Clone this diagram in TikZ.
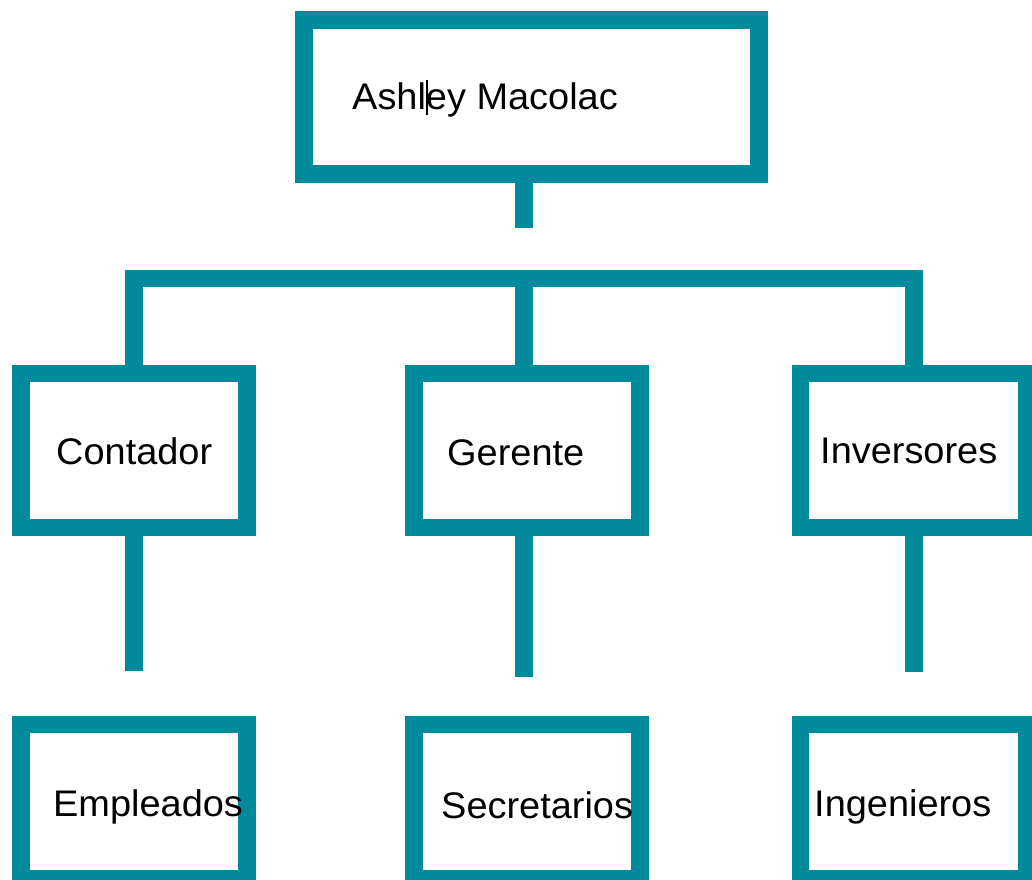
\documentclass[tikz,border=0pt]{standalone}
\usepackage{fontspec}
\setmainfont[FakeStretch=1.025]{Liberation Sans}
\definecolor{teal0}{HTML}{008A9B}
\tikzset{
  orgbox/.style={draw=teal0, line width=17.5pt, fill=none, rectangle, inner sep=0pt, minimum width=#1, minimum height=154pt},
  orgbox/.default=226pt,
  link/.style={draw=teal0, line width=17.5pt, line join=miter},
  lbl/.style={anchor=base west, inner sep=0pt, font=\fontsize{37}{40}\selectfont, text=black},
  cursorbar/.style={draw=black, line width=2.5pt}
}
\begin{document}
\begin{tikzpicture}[x=1pt, y=-1pt]
\useasboundingbox (0,0) rectangle (1032,879);
% boxes
\node[orgbox=455pt] (top) at (531.5,97) {};
\node[orgbox] (cont) at (134,450.5) {};
\node[orgbox] (ger) at (527,450.5) {};
\node[orgbox] (inv) at (913.5,450.5) {};
\node[orgbox] (emp) at (134,801.5) {};
\node[orgbox] (sec) at (527,801.5) {};
\node[orgbox] (ing) at (913.5,801.5) {};
% labels
\node[lbl] (tTop) at (352,109) {Ashley Macolac};
\draw[cursorbar] (427,80) -- (427,115);
\node[lbl] (tCont) at (56,464) {Contador};
\node[lbl] (tGer) at (447,465) {Gerente};
\node[lbl] (tInv) at (820,463) {Inversores};
\node[lbl] (tEmp) at (53,816) {Empleados};
\node[lbl] (tSec) at (441,818) {Secretarios};
\node[lbl] (tIng) at (814,816) {Ingenieros};
% connectors
\coordinate (topstub) at (524,228);
\coordinate (bar) at (524,278.5);
\coordinate (cstub) at (134,671);
\coordinate (gstub) at (524,677);
\coordinate (istub) at (914,672);
\draw[link] (topstub |- top.south) -- (topstub);
\draw[link] (cont.north) |- (bar) -| (istub |- inv.north);
\draw[link] (bar) -- (bar |- ger.north);
\draw[link] (cont.south) -- (cstub);
\draw[link] (gstub |- ger.south) -- (gstub);
\draw[link] (istub |- inv.south) -- (istub);
\end{tikzpicture}
\end{document}
